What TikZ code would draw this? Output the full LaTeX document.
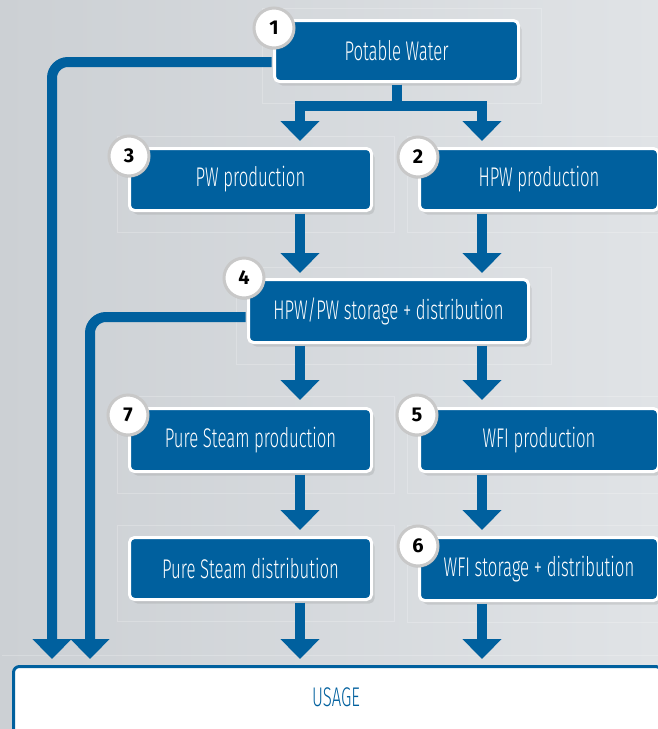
\documentclass[tikz,border=0pt]{standalone}
\usepackage{fontspec}
\setmainfont{Fira Sans Light}[FakeStretch=0.62]
\newfontfamily\numfont{Fira Sans}
\usetikzlibrary{arrows.meta,shadows,calc}
\definecolor{pblue}{RGB}{0,96,158}
\definecolor{bgA}{RGB}{204,208,212}
\definecolor{bgB}{RGB}{224,227,230}
\definecolor{ringgray}{RGB}{200,200,200}
\begin{document}
\begin{tikzpicture}[x=1pt,y=-1pt,line join=miter,
  box/.style={anchor=north west, fill=pblue, draw=white, line width=3pt,
    rounded corners=5pt, text=white, inner sep=0pt,
    font=\fontsize{27}{30}\selectfont,
    drop shadow={shadow xshift=3pt, shadow yshift=-4pt, opacity=0.22}},
  usagebox/.style={anchor=north west, fill=white, draw=pblue, line width=3pt,
    rounded corners=6pt, inner sep=0pt},
  badge/.style={circle, fill=white, draw=ringgray, line width=3pt,
    minimum size=40pt, inner sep=0pt, font=\numfont\bfseries\fontsize{20}{22}\selectfont,
    drop shadow={shadow xshift=1pt, shadow yshift=-2pt, opacity=0.15}},
  arr/.style={draw=pblue, line width=10pt,
    -{Triangle[width=38pt 0, length=20pt 0]}},
  frame/.style={draw=white, draw opacity=0.22, line width=1pt}]
\useasboundingbox (0,0) rectangle (658,729);
\shade[left color=bgA, right color=bgB] (0,0) rectangle (658,729);

% nodes
\node[box, minimum width=244pt, minimum height=61pt] (pot) at (273,19) {Potable Water};
\node[box, minimum width=242pt, minimum height=62pt] (pw) at (128,147) {PW production};
\node[box, minimum width=239pt, minimum height=62pt] (hpw) at (418,147) {HPW production};
\node[box, minimum width=280pt, minimum height=63pt] (store) at (247,278) {HPW/PW storage + distribution};
\node[box, minimum width=242pt, minimum height=63pt] (psp) at (128,407) {Pure Steam production};
\node[box, minimum width=239pt, minimum height=63pt] (wfi) at (418,407) {WFI production};
\node[box, minimum width=242pt, minimum height=62pt] (psd) at (128,536) {Pure Steam distribution};
\node[box, minimum width=239pt, minimum height=63pt] (wfis) at (418,536) {WFI storage + distribution};
\node[usagebox, minimum width=648pt, minimum height=72pt] (usage) at (12,665) {};
\node[text=pblue, font=\fontsize{27}{30}\selectfont] (usagetxt) at (336,697) {USAGE};

% faint frames
\foreach \n in {pot,pw,hpw,store,psp,wfi,psd,wfis}{
  \draw[frame] ($(\n.north west)+(-11,-11)$) rectangle ($(\n.south east)+(21,20)$);
}
\draw[frame] ($(usage.north west)+(-10,-10)$) -- ($(usage.north east)+(10,-10)$);

% badges
\node[badge] (b1) at ($(pot.north west)+(1,9)$) {1};
\node[badge] (b3) at ($(pw.north west)+(1,9)$) {3};
\node[badge] (b2) at ($(hpw.north west)+(0,10)$) {2};
\node[badge] (b4) at ($(store.north west)+(-3,0)$) {4};
\node[badge] (b7) at ($(psp.north west)+(0,8)$) {7};
\node[badge] (b5) at ($(wfi.north west)+(-1,8)$) {5};
\node[badge] (b6) at ($(wfis.north west)+(0,10)$) {6};

% connectors
\coordinate (cL) at (300,0);
\coordinate (cR) at (482,0);
\coordinate (bar) at (0,106);
\coordinate (lx1) at (52,0);
\coordinate (lx2) at (90,0);
\draw[arr, shorten >=6pt, shorten <=1.5pt] (pot.south) |- (bar -| cL) -- (pw.north -| cL);
\draw[arr, shorten >=6pt, shorten <=1.5pt] (pot.south) |- (bar -| cR) -- (hpw.north -| cR);
\draw[arr, shorten >=5pt, shorten <=1.5pt] (pw.south -| cL) -- (store.north -| cL);
\draw[arr, shorten >=5pt, shorten <=1.5pt] (hpw.south -| cR) -- (store.north -| cR);
\draw[arr, shorten >=7pt, shorten <=1.5pt] (store.south -| cL) -- (psp.north -| cL);
\draw[arr, shorten >=7pt, shorten <=1.5pt] (store.south -| cR) -- (wfi.north -| cR);
\draw[arr, shorten >=6pt, shorten <=1.5pt] (psp.south -| cL) -- (psd.north -| cL);
\draw[arr, shorten >=6pt, shorten <=1.5pt] (wfi.south -| cR) -- (wfis.north -| cR);
\draw[arr, shorten >=6pt, shorten <=1.5pt] (psd.south -| cL) -- (usage.north -| cL);
\draw[arr, shorten >=6pt, shorten <=1.5pt] (wfis.south -| cR) -- (usage.north -| cR);
\draw[arr, rounded corners=16pt, shorten >=6pt, shorten <=1.5pt] ($(pot.west)+(0,11)$) -| (usage.north -| lx1);
\draw[arr, rounded corners=16pt, shorten >=6pt, shorten <=1.5pt] ($(store.west)+(0,6)$) -| (usage.north -| lx2);
\end{tikzpicture}
\end{document}
